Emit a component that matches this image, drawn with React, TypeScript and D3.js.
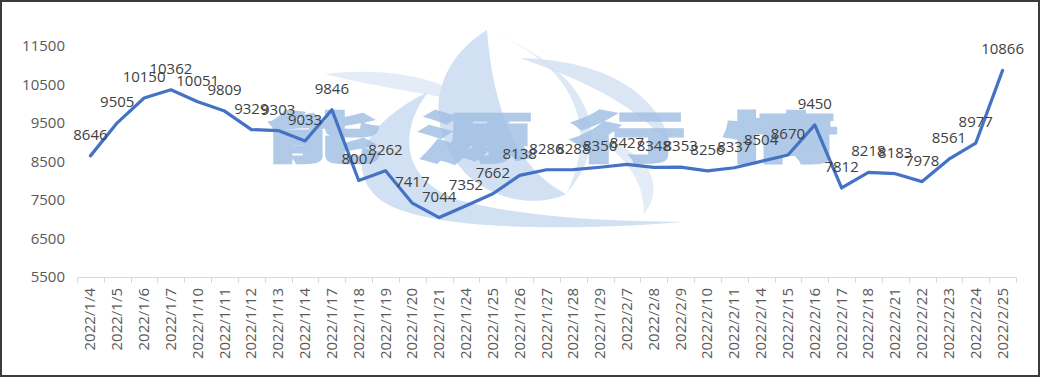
import React from "react";
import * as d3 from "d3";

const categories = [
  "2022/1/4", "2022/1/5", "2022/1/6", "2022/1/7", "2022/1/10", "2022/1/11", "2022/1/12",
  "2022/1/13", "2022/1/14", "2022/1/17", "2022/1/18", "2022/1/19", "2022/1/20", "2022/1/21",
  "2022/1/24", "2022/1/25", "2022/1/26", "2022/1/27", "2022/1/28", "2022/1/29", "2022/2/7",
  "2022/2/8", "2022/2/9", "2022/2/10", "2022/2/11", "2022/2/14", "2022/2/15", "2022/2/16",
  "2022/2/17", "2022/2/18", "2022/2/21", "2022/2/22", "2022/2/23", "2022/2/24", "2022/2/25",
];
const values = [
  8646, 9505, 10150, 10362, 10051, 9809, 9329, 9303, 9033, 9846, 8007, 8262, 7417, 7044,
  7352, 7662, 8138, 8286, 8288, 8350, 8427, 8348, 8353, 8256, 8337, 8504, 8670, 9450,
  7812, 8218, 8183, 7978, 8561, 8977, 10866,
];
const yTicks = [5500, 6500, 7500, 8500, 9500, 10500, 11500];
const watermarkChars = ["能", "源", "行", "情"];

const W = 1041;
const H = 378;
const FONT = "'Open Sans', 'Noto Sans', sans-serif";

export default function App() {
  const x = d3.scaleBand<string>().domain(categories).range([77, 1016]).padding(0);
  const y = d3.scaleLinear().domain([5500, 11500]).range([277, 46]);
  const cx = (c: string) => (x(c) as number) + x.bandwidth() / 2;
  const line = d3
    .line<number>()
    .x((_, i) => cx(categories[i]))
    .y((d) => y(d));

  const wmX = d3.scaleLinear().domain([0, 3]).range([323, 781]);

  return (
    <svg
      width={W}
      height={H}
      style={{ position: "fixed", left: 0, top: 0, background: "#fff" }}
      fontFamily={FONT}
    >
      <rect x={0} y={0} width={W} height={H} fill="#fff" />
      {/* watermark logo */}
      <g fill="#b4cdea" opacity={0.6}>
        <path d="M 682,222 C 560,232 415,230 378,198 C 345,168 362,124 428,92 C 396,135 404,180 458,200 C 528,218 604,221 682,222 Z" />
        <path d="M 487,30 C 432,64 422,126 466,174 C 498,204 542,206 566,194 C 524,172 494,124 487,30 Z" />
        <path d="M 487,30 C 570,62 602,124 566,194 C 612,142 600,76 487,30 Z" opacity={0.75} />
        <path d="M 520,58 C 606,60 660,94 672,148 C 638,106 588,82 520,58 Z" opacity={0.8} />
        <path d="M 325,74 C 392,66 446,80 476,104 C 432,94 380,88 325,74 Z" opacity={0.6} />
        <path d="M 598,138 C 646,150 668,184 644,214 C 644,182 628,160 598,138 Z" opacity={0.6} />
      </g>
      <g fill="#a3c1e5" stroke="#a3c1e5" strokeWidth={3} opacity={0.85}>
        {watermarkChars.map((ch, i) => (
          <text
            key={ch}
            transform={`translate(${wmX(i)},158) scale(2.1,1)`}
            fontSize={54}
            fontWeight={700}
            textAnchor="middle"
            fontFamily="'Noto Sans CJK SC', sans-serif"
          >
            {ch}
          </text>
        ))}
      </g>

      {/* y axis labels */}
      {yTicks.map((t) => (
        <text
          key={t}
          x={65}
          y={y(t)}
          dy="0.35em"
          textAnchor="end"
          fontSize={15}
          fill="#595959"
        >
          {t}
        </text>
      ))}

      {/* x axis */}
      <line x1={77} x2={1016} y1={277.5} y2={277.5} stroke="#d9d9d9" strokeWidth={1} />
      {categories.map((c) => (
        <line
          key={"t" + c}
          x1={Math.round(x(c) as number) + 0.5}
          x2={Math.round(x(c) as number) + 0.5}
          y1={277}
          y2={283}
          stroke="#d9d9d9"
        />
      ))}
      <line x1={1016.5} x2={1016.5} y1={277} y2={283} stroke="#d9d9d9" />
      {categories.map((c) => (
        <text
          key={"l" + c}
          transform={`translate(${cx(c) + 5},288) rotate(-90)`}
          textAnchor="end"
          fontSize={15}
          fill="#595959"
        >
          {c}
        </text>
      ))}

      {/* line */}
      <path
        d={line(values) || ""}
        fill="none"
        stroke="#4472C4"
        strokeWidth={3.2}
        strokeLinejoin="round"
        strokeLinecap="round"
      />

      {/* data labels */}
      {values.map((v, i) => (
        <text
          key={"d" + i}
          x={cx(categories[i])}
          y={y(v) - 16}
          textAnchor="middle"
          fontSize={15}
          fill="#404040"
        >
          {v}
        </text>
      ))}

      {/* frame */}
      <rect x={1} y={1} width={W - 3} height={H - 3} fill="none" stroke="#3c3c3c" strokeWidth={2} />
    </svg>
  );
}
